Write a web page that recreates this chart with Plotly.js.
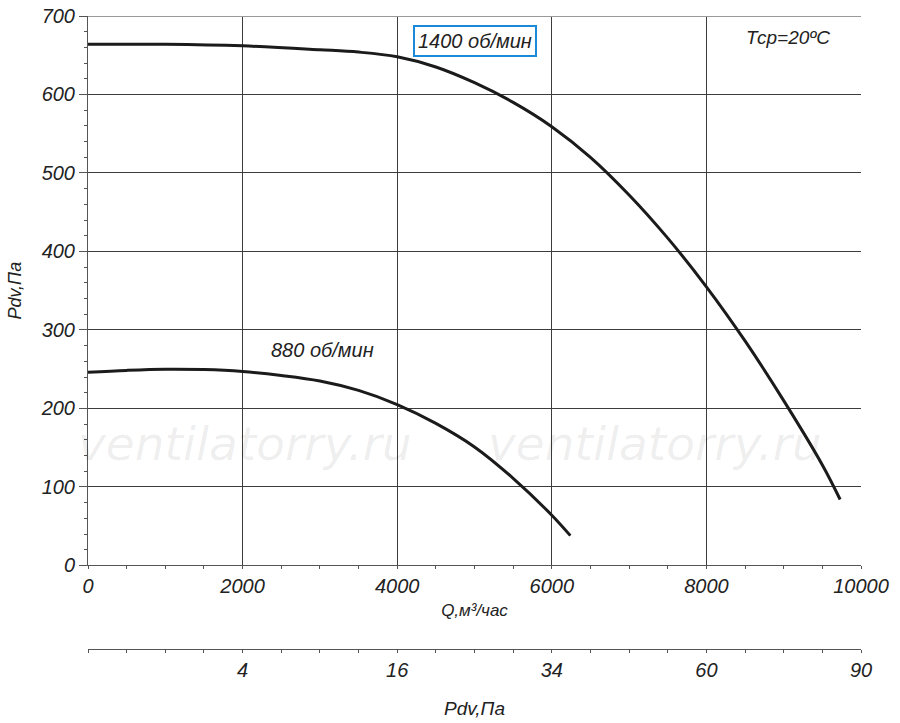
<!DOCTYPE html>
<html>
<head>
<meta charset="utf-8">
<script src="https://cdn.plot.ly/plotly-3.0.1.min.js"></script>
<style>html, body {margin: 0; padding: 0; background: #fff;}</style>
</head>
<body>
<div id="chart" style="width:900px;height:723px"></div>
<script>
// Fan curve 1400 об/мин
const q_1400 = [0, 1000, 2000, 3000, 3500, 4000, 4500, 5000, 5500, 6000, 6500, 7000, 7500, 8000, 8500, 9000, 9500, 9730];
const p_1400 = [664, 664, 662, 657, 654, 648, 635, 615, 590, 559, 520, 472, 417, 355, 286, 210, 128, 84];

// Fan curve 880 об/мин
const q_880 = [0, 500, 1000, 1500, 2000, 2500, 3000, 3500, 4000, 4500, 5000, 5500, 6000, 6240];
const p_880 = [246, 248.5, 250, 249.5, 247, 242, 235, 223, 205, 181, 151, 111, 64, 38];

// second scale (dynamic pressure) under the Q axis
const pdv_tick_q = [2000, 4000, 6000, 8000, 10000];
const pdv_tick_text = ['4', '16', '34', '60', '90'];

const font_family = '"Liberation Sans", Arial, sans-serif';
const text_color = '#222';
const grid_color = '#3c3c3c';
const axis_color = '#555';

function curve(xs, ys) {
    return {
        x: xs,
        y: ys,
        mode: 'lines',
        line: {color: '#1b1b1b', width: 3, shape: 'spline', smoothing: 1},
        showlegend: false,
        hoverinfo: 'skip',
        type: 'scatter'
    };
}

function italic(size) {
    return {family: font_family, size: size, color: text_color, style: 'italic'};
}

let traces = [
    curve(q_1400, p_1400),
    curve(q_880, p_880),
    // keeps the Pdv scale axis alive
    {x: pdv_tick_q, y: pdv_tick_q.map(() => null), xaxis: 'x2', yaxis: 'y',
     mode: 'lines', showlegend: false, hoverinfo: 'skip', type: 'scatter'}
];

let watermark = (x) => ({
    x: x, y: 155, xref: 'x', yref: 'y',
    text: 'ventilatorry.ru', showarrow: false,
    font: {family: '"DejaVu Sans", sans-serif', size: 47, color: 'rgba(0,0,0,0.07)', style: 'italic'}
});

let layout = {
    width: 900,
    height: 723,
    margin: {l: 88, r: 39, t: 16, b: 74},
    paper_bgcolor: '#fff',
    plot_bgcolor: '#fff',
    showlegend: false,
    xaxis: {
        range: [0, 10000],
        tick0: 0,
        dtick: 2000,
        tickformat: 'd',
        showgrid: true,
        gridcolor: grid_color,
        gridwidth: 1,
        zeroline: false,
        showline: true,
        linecolor: axis_color,
        ticks: 'outside',
        ticklen: 3,
        tickcolor: axis_color,
        minor: {tick0: 0, dtick: 500, ticks: 'outside', ticklen: 3, tickcolor: axis_color, showgrid: false},
        tickfont: italic(20),
        title: {text: 'Q,м³/час', font: italic(17), standoff: 7}
    },
    xaxis2: {
        overlaying: 'x',
        anchor: 'free',
        position: 0,
        side: 'bottom',
        range: [0, 10000],
        tickmode: 'array',
        tickvals: pdv_tick_q,
        ticktext: pdv_tick_text,
        showgrid: false,
        zeroline: false,
        showline: true,
        linecolor: axis_color,
        ticks: 'outside',
        ticklen: 3,
        tickcolor: axis_color,
        minor: {tickmode: 'linear', tick0: 0, dtick: 500, ticks: 'outside', ticklen: 3, tickcolor: axis_color, showgrid: false},
        tickfont: italic(20),
        title: {text: 'Pdv,Па', font: italic(19), standoff: 21}
    },
    yaxis: {
        domain: [0.132, 1],
        range: [0, 700],
        tick0: 0,
        dtick: 100,
        showgrid: true,
        gridcolor: grid_color,
        gridwidth: 1,
        zeroline: false,
        showline: true,
        linecolor: axis_color,
        ticks: 'outside',
        ticklen: 8,
        tickcolor: axis_color,
        minor: {tick0: 0, dtick: 20, ticks: 'outside', ticklen: 3, tickcolor: axis_color, showgrid: false},
        tickfont: italic(20),
        title: {text: 'Pdv,Па', font: italic(18), standoff: 14}
    },
    shapes: [
        // light top frame line
        {type: 'line', xref: 'x', yref: 'y', x0: 0, x1: 10000, y0: 700, y1: 700,
         line: {color: '#9a9a9a', width: 2}}
    ],
    annotations: [
        watermark(2030),
        watermark(7330),
        {x: 5005, y: 668, xref: 'x', yref: 'y', text: '1400 об/мин', showarrow: false,
         font: italic(20), bgcolor: '#fff', bordercolor: '#1a8ad8', borderwidth: 2, borderpad: 3},
        {x: 3040, y: 275, xref: 'x', yref: 'y', text: '880 об/мин', showarrow: false,
         font: italic(20)},
        {x: 9050, y: 673, xref: 'x', yref: 'y', text: 'Тср=20ºС', showarrow: false,
         font: italic(19)}
    ]
};

Plotly.newPlot('chart', traces, layout, {displayModeBar: false, staticPlot: true});
</script>
</body>
</html>
